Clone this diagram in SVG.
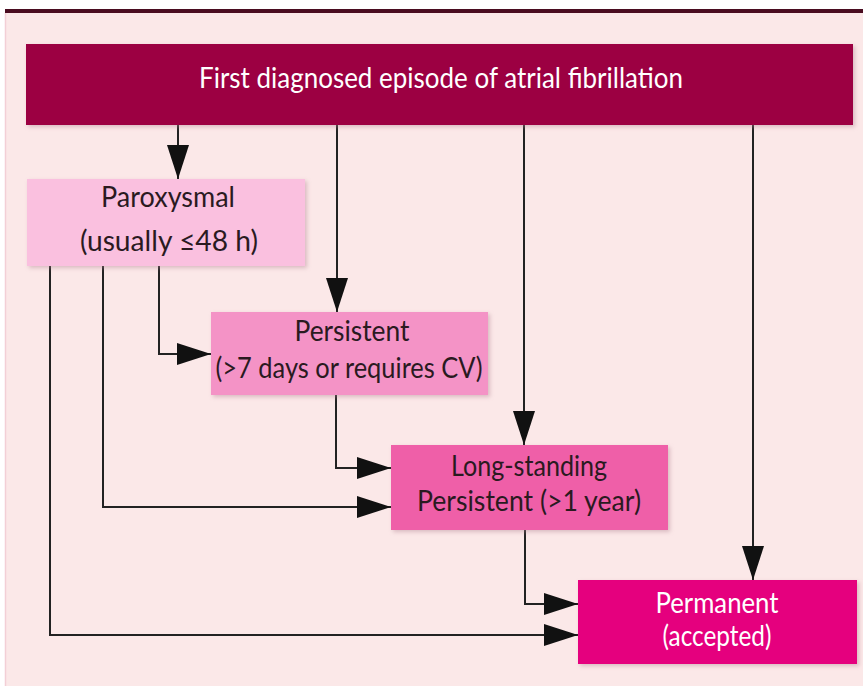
<svg xmlns="http://www.w3.org/2000/svg" width="863" height="686" viewBox="0 0 863 686">
<style>
.t{font-family:"Lato","Open Sans","Liberation Sans",sans-serif;font-size:28px;text-anchor:middle}
.dk{fill:#2a1a1f}
.wh{fill:#ffffff}
.c{fill:none;stroke:#222222;stroke-width:2}
</style>
<defs>
<marker id="ah" markerUnits="userSpaceOnUse" markerWidth="36" markerHeight="24" refX="34" refY="12" orient="auto">
<path d="M0,1 L34,12 L0,23 Z" fill="#111111"/>
</marker>
<filter id="sh" x="-5%" y="-10%" width="115%" height="130%">
<feDropShadow dx="2" dy="2" stdDeviation="2" flood-color="#b08090" flood-opacity="0.45"/>
</filter>
</defs>
<rect x="0" y="0" width="863" height="686" fill="#ffffff"/>
<rect x="5" y="11" width="858" height="675" fill="#fbe8e8"/>
<line x1="5.5" y1="13" x2="5.5" y2="686" stroke="#f3cfd6" stroke-width="1.5"/>
<rect x="5" y="9" width="858" height="4" fill="#4a0c20"/>
<g id="connectors">
<line class="c" x1="178" y1="125" x2="178" y2="179" marker-end="url(#ah)"/>
<line class="c" x1="337" y1="125" x2="337" y2="312" marker-end="url(#ah)"/>
<line class="c" x1="524" y1="125" x2="524" y2="445" marker-end="url(#ah)"/>
<line class="c" x1="753" y1="125" x2="753" y2="580" marker-end="url(#ah)"/>
<polyline class="c" points="159,266 159,354 211,354" marker-end="url(#ah)"/>
<polyline class="c" points="103,266 103,507 391,507" marker-end="url(#ah)"/>
<polyline class="c" points="50,266 50,635 578,635" marker-end="url(#ah)"/>
<polyline class="c" points="336,395 336,468 391,468" marker-end="url(#ah)"/>
<polyline class="c" points="525,530 525,604 578,604" marker-end="url(#ah)"/>
</g>
<g id="first">
<rect x="26" y="44" width="827" height="81" fill="#9c0042" filter="url(#sh)"/>
<text class="t wh" x="441" y="88" font-size="29" textLength="484" lengthAdjust="spacingAndGlyphs">First diagnosed episode of atrial fibrillation</text>
</g>
<g id="paroxysmal">
<rect x="27" y="179" width="278" height="87" fill="#fac0df" filter="url(#sh)"/>
<text class="t dk" x="168" y="207" textLength="134" lengthAdjust="spacingAndGlyphs">Paroxysmal</text>
<text class="t dk" x="169" y="251" textLength="178" lengthAdjust="spacingAndGlyphs">(usually ≤48 h)</text>
</g>
<g id="persistent">
<rect x="211" y="312" width="277" height="83" fill="#f493c6" filter="url(#sh)"/>
<text class="t dk" x="352" y="341" textLength="115" lengthAdjust="spacingAndGlyphs">Persistent</text>
<text class="t dk" x="349" y="378" textLength="267" lengthAdjust="spacingAndGlyphs">(&gt;7 days or requires CV)</text>
</g>
<g id="longstanding">
<rect x="391" y="445" width="277" height="85" fill="#ef5ea8" filter="url(#sh)"/>
<text class="t dk" x="529" y="476" textLength="156" lengthAdjust="spacingAndGlyphs">Long-standing</text>
<text class="t dk" x="529" y="511" textLength="224" lengthAdjust="spacingAndGlyphs">Persistent (&gt;1 year)</text>
</g>
<g id="permanent">
<rect x="578" y="580" width="279" height="84" fill="#e5007e" filter="url(#sh)"/>
<text class="t wh" x="717" y="613" textLength="123" lengthAdjust="spacingAndGlyphs">Permanent</text>
<text class="t wh" x="717" y="646" textLength="109" lengthAdjust="spacingAndGlyphs">(accepted)</text>
</g>
</svg>
